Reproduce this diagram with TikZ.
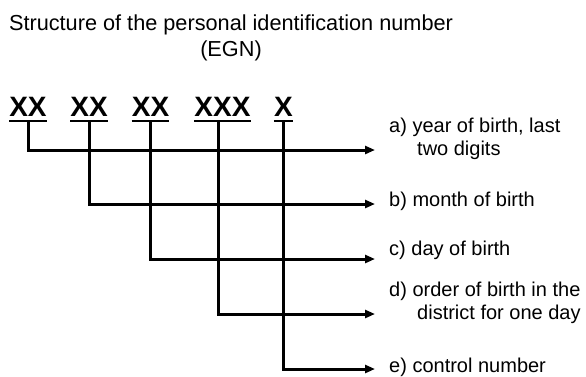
\documentclass[tikz,border=0pt]{standalone}
\usepackage{fontspec}
\setmainfont{Liberation Sans}
\usetikzlibrary{arrows.meta}
\tikzset{
  grp/.style={font=\bfseries\fontsize{28}{28}\selectfont, inner xsep=0pt, inner ysep=4.5pt, anchor=base},
  lbl/.style={font=\fontsize{20}{23}\selectfont, inner sep=0pt, anchor=base west, align=left},
  uline/.style={line width=2pt},
  conn/.style={line width=3pt, -{Triangle[length=10pt,width=8pt]}},
}
\begin{document}
\begin{tikzpicture}[x=1pt, y=-1pt]
\useasboundingbox (0,0) rectangle (586,376);
\node[font=\fontsize{21.7}{26}\selectfont, align=center, anchor=base, inner sep=0pt] (title) at (231,56)
  {Structure of the personal identification number\\(EGN)};
\node[grp] (yy) at (28,116) {XX};
\node[grp] (mm) at (89,116) {XX};
\node[grp] (dd) at (150.5,116) {XX};
\node[grp] (ord) at (222.5,116) {XXX};
\node[grp] (ctl) at (283.5,116) {X};
\foreach \g in {yy,mm,dd,ord,ctl}
  \draw[uline] (\g.south west) -- (\g.south east);
\coordinate (ta) at (375,150);
\coordinate (tb) at (375,204);
\coordinate (tc) at (375,259);
\coordinate (td) at (375,314);
\coordinate (te) at (375,369);
\draw[conn] (yy.south) |- (ta);
\draw[conn] (mm.south) |- (tb);
\draw[conn] (dd.south) |- (tc);
\draw[conn] ([xshift=-4.5pt]ord.south) |- (td);
\draw[conn] (ctl.south) |- (te);
\node[lbl] (la) at (389,155) {a) year of birth, last\\\hspace*{28pt}two digits};
\node[lbl] (lb) at (389,206) {b) month of birth};
\node[lbl] (lc) at (389,255) {c) day of birth};
\node[lbl] (ld) at (389,319) {d) order of birth in the\\\hspace*{28pt}district for one day};
\node[lbl] (le) at (389,372) {e) control number};
\end{tikzpicture}
\end{document}
